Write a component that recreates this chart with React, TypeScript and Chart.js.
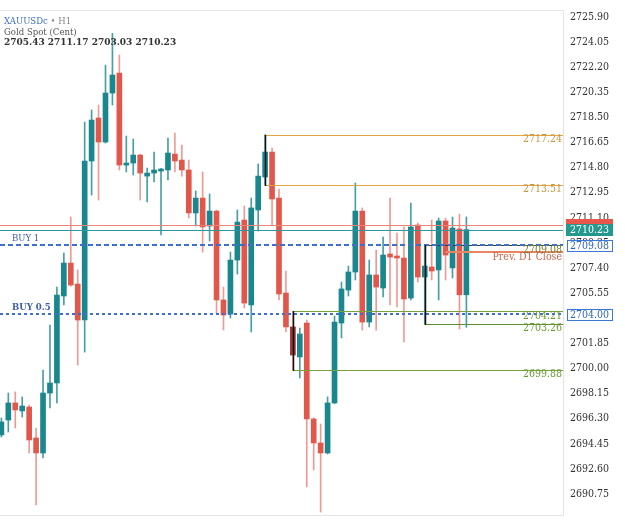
import { useEffect, useRef } from 'react';
import { Chart, registerables } from 'chart.js';

Chart.register(...registerables);

// ---- data ----
const candleOpen = [
  2695.10, 2696.20, 2697.46, 2696.87, 2697.16, 2694.88, 2693.77, 2698.19, 2698.93, 2705.34,
  2707.77, 2706.22, 2703.57, 2715.29, 2718.46, 2716.69, 2720.30, 2721.77, 2714.99, 2715.14,
  2715.73, 2714.18, 2714.40, 2714.55, 2714.63, 2715.80, 2715.36, 2714.63, 2711.46, 2712.56,
  2710.50, 2711.60, 2705.05, 2704.01, 2707.99, 2710.94, 2704.68, 2711.68, 2714.11, 2715.95,
  2712.56, 2705.56, 2703.06, 2700.85, 2703.35, 2696.28, 2694.51, 2693.77, 2697.46, 2703.35,
  2705.78, 2707.11, 2711.60, 2703.42, 2706.89, 2705.93, 2708.44, 2708.29, 2708.14, 2705.19,
  2710.57, 2706.74, 2707.48, 2707.26, 2710.87, 2707.41, 2710.28, 2705.43,
];
const candleHigh = [
  2696.35, 2698.19, 2698.27, 2697.90, 2697.31, 2695.61, 2699.89, 2703.20, 2706.00, 2708.51,
  2711.16, 2707.26, 2718.16, 2719.05, 2719.42, 2722.36, 2724.70, 2723.10, 2717.13, 2716.91,
  2715.80, 2714.77, 2715.95, 2714.75, 2716.98, 2717.35, 2716.47, 2715.36, 2713.08, 2714.48,
  2712.86, 2711.68, 2706.00, 2708.58, 2711.68, 2711.97, 2712.56, 2715.07, 2717.24, 2716.25,
  2713.23, 2707.18, 2704.21, 2702.98, 2703.57, 2696.35, 2695.91, 2697.90, 2703.87, 2706.37,
  2707.55, 2713.67, 2711.83, 2707.99, 2708.73, 2709.69, 2712.56, 2709.98, 2710.43, 2712.19,
  2710.72, 2709.08, 2710.94, 2711.09, 2711.09, 2711.16, 2711.38, 2711.17,
];
const candleLow = [
  2694.95, 2695.32, 2695.61, 2696.42, 2693.77, 2689.94, 2693.40, 2697.09, 2697.46, 2704.68,
  2706.05, 2700.26, 2701.21, 2712.78, 2712.41, 2716.61, 2719.42, 2714.63, 2714.48, 2714.26,
  2712.41, 2712.27, 2713.74, 2709.84, 2713.89, 2714.48, 2714.18, 2711.09, 2710.50, 2708.58,
  2709.39, 2704.09, 2702.83, 2703.72, 2706.96, 2704.46, 2702.69, 2710.13, 2713.51, 2710.57,
  2705.05, 2702.69, 2699.88, 2699.30, 2691.27, 2692.52, 2689.42, 2693.70, 2697.40, 2702.25,
  2705.34, 2706.52, 2702.83, 2703.06, 2702.83, 2705.27, 2704.68, 2704.53, 2701.95, 2705.05,
  2706.37, 2703.26, 2706.52, 2705.05, 2706.52, 2706.67, 2702.90, 2703.03,
];
const candleClose = [
  2696.06, 2697.46, 2696.94, 2697.23, 2694.73, 2693.77, 2698.19, 2698.93, 2705.41, 2707.77,
  2706.15, 2703.57, 2715.29, 2718.31, 2716.69, 2720.30, 2721.63, 2714.99, 2715.14, 2715.73,
  2714.40, 2714.40, 2714.63, 2714.70, 2715.88, 2715.29, 2714.63, 2711.46, 2712.56, 2710.43,
  2711.60, 2705.05, 2703.94, 2707.99, 2710.79, 2704.82, 2711.83, 2714.18, 2715.95, 2712.49,
  2705.49, 2703.06, 2700.99, 2702.54, 2696.28, 2694.51, 2693.77, 2697.46, 2703.42, 2705.86,
  2707.11, 2711.60, 2703.42, 2706.89, 2706.00, 2708.36, 2708.21, 2708.14, 2705.12, 2710.43,
  2706.74, 2707.55, 2707.18, 2710.87, 2708.36, 2710.35, 2705.43, 2710.23,
];

const axisTicks = [
  2725.90, 2724.05, 2722.20, 2720.35, 2718.50, 2716.65, 2714.80, 2712.95, 2711.10, 2709.25,
  2707.40, 2705.55, 2703.70, 2701.85, 2700.00, 2698.15, 2696.30, 2694.45, 2692.60, 2690.75,
];

const symbolName = 'XAUUSDc';
const timeframe = 'H1';
const instrumentName = 'Gold Spot (Cent)';
const askPrice = 2710.57;
const bidPrice = 2710.23;
const buyLevels = [2709.08, 2704.0];
const buyLabels = ['BUY 1', 'BUY 0.5'];
const prevD1Close = 2708.55;
const prevD1Label = 'Prev. D1 Close';
const prevD1Start = 64;
const rangeAnchors = [38, 42, 61];
const rangeHighs = [2717.24, 2704.21, 2709.08];
const rangeLows = [2713.51, 2699.88, 2703.26];
const selectedCandle = 42;

// ---- styles ----
const SERIF = '"DejaVu Serif Condensed", "DejaVu Serif", serif';
const UP = '#19878d';
const DOWN = '#e2574c';
const UP_WICK = 'rgba(25,135,141,0.8)';
const DOWN_WICK = 'rgba(226,87,76,0.6)';

const rangeStyles = [
  { hi: '#e3a443', lo: '#e3a443', hiText: '#c8963c', loText: '#c8963c' },
  { hi: '#78a23c', lo: '#78a23c', hiText: '#6b9a35', loText: '#6b9a35' },
  { hi: '#2f4a1c', lo: '#5f8f2f', hiText: '#7a8030', loText: '#6b9a35' },
];

const levelsPlugin = {
  id: 'levels',
  beforeDatasetsDraw(chart: any) {
    const { ctx, chartArea: a } = chart;
    ctx.save();
    ctx.strokeStyle = '#e3e3e3';
    ctx.lineWidth = 1;
    ctx.beginPath();
    ctx.moveTo(a.left, a.top + 0.5);
    ctx.lineTo(a.right + 0.5, a.top + 0.5);
    ctx.lineTo(a.right + 0.5, a.bottom + 0.5);
    ctx.lineTo(a.left, a.bottom + 0.5);
    ctx.stroke();
    ctx.restore();
  },
  afterDatasetsDraw(chart: any) {
    const { ctx, chartArea: a, scales } = chart;
    const py = (v: number) => scales.y.getPixelForValue(v);
    const px = (i: number) => scales.x.getPixelForValue(i);
    const hline = (v: number, x0: number, color: string, w: number, dash: number[] = []) => {
      const y = Math.round(py(v)) + (w % 2 ? 0.5 : 0);
      ctx.save();
      ctx.strokeStyle = color;
      ctx.lineWidth = w;
      ctx.setLineDash(dash);
      ctx.beginPath();
      ctx.moveTo(x0, y);
      ctx.lineTo(a.right, y);
      ctx.stroke();
      ctx.restore();
    };
    const rtext = (text: string, v: number, color: string) => {
      ctx.save();
      ctx.font = `10.5px ${SERIF}`;
      ctx.fillStyle = color;
      ctx.textAlign = 'right';
      ctx.textBaseline = 'middle';
      ctx.fillText(text, a.right - 1, py(v) + 4.5);
      ctx.restore();
    };

    ctx.save();
    ctx.beginPath();
    ctx.rect(a.left, a.top, a.right - a.left, a.bottom - a.top);
    ctx.clip();

    hline(askPrice, a.left, '#ec8178', 1);
    hline(bidPrice, a.left, '#2b9aa0', 1);

    rangeAnchors.forEach((idx, k) => {
      const st = rangeStyles[k];
      const x0 = Math.round(px(idx)) + 0.5;
      hline(rangeHighs[k], x0, st.hi, 1);
      hline(rangeLows[k], x0, st.lo, 1);
    });

    buyLevels.forEach((v, k) => hline(v, a.left, '#3f6fca', 2, k === 0 ? [5, 3] : [3, 3]));

    hline(prevD1Close, px(prevD1Start), '#e8865f', 2);

    rangeAnchors.forEach((idx, k) => {
      const x0 = Math.round(px(idx)) + 0.5;
      ctx.save();
      ctx.strokeStyle = '#111';
      ctx.lineWidth = 1.5;
      ctx.beginPath();
      ctx.moveTo(x0, Math.round(py(rangeHighs[k])));
      ctx.lineTo(x0, Math.round(py(rangeLows[k])) + 1);
      ctx.stroke();
      ctx.restore();
    });

    rangeAnchors.forEach((_, k) => {
      const st = rangeStyles[k];
      rtext(rangeHighs[k].toFixed(2), rangeHighs[k], st.hiText);
      rtext(rangeLows[k].toFixed(2), rangeLows[k], st.loText);
    });
    rtext(prevD1Label, prevD1Close, '#c8664e');

    buyLabels.forEach((t, k) => {
      ctx.save();
      ctx.font = `${k === 1 ? 'bold ' : ''}9.5px ${SERIF}`;
      ctx.fillStyle = '#3b5da6';
      ctx.textBaseline = 'middle';
      ctx.fillText(t, 12, py(buyLevels[k]) - 6.5);
      ctx.restore();
    });
    ctx.restore();
  },
  afterDraw(chart: any) {
    const { ctx, chartArea: a, scales } = chart;
    const py = (v: number) => scales.y.getPixelForValue(v);
    const bx = a.right + 3;
    const bw = 47;
    const bh = 12;
    ctx.save();
    ctx.font = `10.5px ${SERIF}`;
    ctx.textBaseline = 'middle';
    ctx.fillStyle = '#e9564c';
    ctx.fillRect(bx, Math.round(py(askPrice) - 6), bw, bh);
    const by = Math.round(py(bidPrice) - 5.5);
    ctx.fillStyle = '#23988f';
    ctx.fillRect(bx, by, bw, bh);
    ctx.fillStyle = '#ffffff';
    ctx.fillText(bidPrice.toFixed(2), a.right + 7, by + bh / 2 + 0.5);
    buyLevels.forEach((v) => {
      const y0 = Math.round(py(v) - 5.5);
      ctx.fillStyle = '#ffffff';
      ctx.fillRect(bx + 1, y0, bw - 1, bh);
      ctx.strokeStyle = '#3b78d8';
      ctx.lineWidth = 1;
      ctx.strokeRect(bx + 1.5, y0 + 0.5, bw - 2, bh - 1);
      ctx.fillStyle = '#2e64c2';
      ctx.fillText(v.toFixed(2), a.right + 7, y0 + bh / 2 + 0.5);
    });

    const last = candleOpen.length - 1;
    ctx.textAlign = 'left';
    ctx.font = `9.5px ${SERIF}`;
    ctx.fillStyle = '#3d6fbf';
    ctx.fillText(symbolName, 4, 22);
    const w = ctx.measureText(symbolName).width;
    ctx.fillStyle = '#888';
    ctx.fillText(` • ${timeframe}`, 4 + w, 22);
    ctx.fillStyle = '#555';
    ctx.fillText(instrumentName, 4, 32.5);
    ctx.font = `bold 10px ${SERIF}`;
    ctx.fillStyle = '#333';
    ctx.fillText(
      [candleOpen[last], candleHigh[last], candleLow[last], candleClose[last]].map((v) => v.toFixed(2)).join(' '),
      4,
      42
    );
    ctx.restore();
  },
};

export default function App() {
  const ref = useRef<HTMLCanvasElement | null>(null);
  useEffect(() => {
    document.body.style.margin = '0';
    if (!ref.current) return;
    const idx = candleOpen.map((_, i) => i);
    const isUp = (i: number) => candleClose[i] >= candleOpen[i];
    const chart = new Chart(ref.current, {
      type: 'bar',
      data: {
        datasets: [
          {
            label: 'body',
            data: idx.map((i) => ({ x: i, y: [candleOpen[i], candleClose[i]] })) as any,
            backgroundColor: idx.map((i) => (i === selectedCandle ? '#9a3430' : isUp(i) ? UP : DOWN)),
            barThickness: 5,
            grouped: false,
            borderWidth: 0,
            borderSkipped: false,
            minBarLength: 1.5,
            order: 1,
          } as any,
          {
            label: 'wick',
            data: idx.map((i) => ({ x: i, y: [candleLow[i], candleHigh[i]] })) as any,
            backgroundColor: idx.map((i) => (isUp(i) ? UP_WICK : DOWN_WICK)),
            barThickness: 1,
            grouped: false,
            borderWidth: 0,
            borderSkipped: false,
            order: 2,
          } as any,
        ],
      },
      options: {
        animation: false,
        responsive: true,
        maintainAspectRatio: false,
        layout: { padding: { top: 10, bottom: 5, left: 0, right: 0 } },
        plugins: { legend: { display: false }, tooltip: { enabled: false } },
        scales: {
          x: { type: 'linear', min: -0.2, max: 80.92, offset: false, display: false },
          y: {
            type: 'linear',
            position: 'right',
            min: 2689.2,
            max: 2726.42,
            grid: { display: false, drawTicks: false },
            border: { display: false },
            afterBuildTicks: (s: any) => {
              s.ticks = axisTicks.map((v) => ({ value: v }));
            },
            afterFit: (s: any) => {
              s.width = 62;
              s.paddingTop = 0;
              s.paddingBottom = 0;
            },
            ticks: {
              padding: 7,
              color: '#333',
              font: { family: SERIF, size: 10.5 },
              callback: (v: any) => Number(v).toFixed(2),
            },
          },
        },
      } as any,
      plugins: [levelsPlugin],
    });
    return () => chart.destroy();
  }, []);
  return (
    <div style={{ position: 'relative', width: 625, height: 520 }}>
      <canvas ref={ref} />
    </div>
  );
}
